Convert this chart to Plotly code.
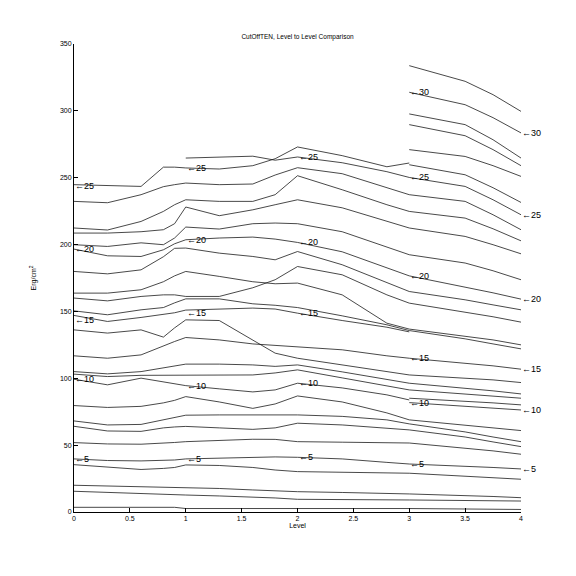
import plotly.graph_objects as go

# level positions sampled along each curve
X_LEFT = [0, 0.3, 0.6, 0.8, 0.9, 1.0, 1.3, 1.6, 1.8, 2.0, 2.4, 2.8, 3.0]
X_RIGHT = [3.0, 3.5, 3.75, 4.0]

# curves between level 0 and level 3 (bottom to top)
left_01 = [3.5, 3.5, 3.5, 3.5, 3.5, 2.6, 2.6, 2.6, 2.6, 2.6, 2.6, 2.6, 2.6]
left_02 = [15.5, 14.6, 13.5, 13.1, 12.9, 12.7, 12.0, 11.2, 10.5, 9.5, 9.4, 9.1, 9.0]
left_03 = [20.0, 19.5, 18.7, 18.5, 18.3, 18.2, 17.6, 16.5, 15.7, 15.2, 14.6, 14.0, 13.5]
left_04 = [35.4, 33.7, 31.8, 32.6, 33.3, 35.2, 34.8, 33.3, 31.4, 30.2, 29.6, 29.3, 29.0]
left_05 = [39.7, 38.5, 38.2, 38.5, 38.9, 39.7, 40.4, 40.9, 41.2, 40.9, 39.7, 37.1, 35.9]
left_06 = [51.9, 50.9, 50.7, 51.3, 52.0, 52.6, 53.5, 54.4, 54.3, 52.6, 52.2, 52.0, 51.6]
left_07 = [64.1, 60.6, 60.3, 62.9, 63.6, 64.0, 62.9, 61.8, 62.9, 66.4, 65.1, 62.9, 61.4]
left_08 = [68.1, 65.1, 65.5, 68.9, 70.7, 72.4, 72.6, 72.6, 72.6, 72.6, 71.5, 68.9, 65.9]
left_09 = [79.6, 78.2, 79.0, 81.6, 83.5, 86.3, 82.3, 77.5, 80.8, 86.8, 82.3, 74.1, 68.9]
left_10 = [99.3, 95.1, 100.1, 97.3, 95.8, 94.5, 92.1, 89.8, 91.3, 96.3, 92.8, 87.6, 83.8]
left_11 = [103.1, 101.3, 102.2, 102.2, 102.2, 102.2, 102.2, 102.5, 104.0, 106.3, 100.3, 94.3, 91.3]
left_12 = [105.0, 103.3, 105.0, 107.8, 108.9, 110.6, 110.6, 110.0, 108.9, 110.0, 104.8, 98.8, 96.3]
left_13 = [116.8, 115.0, 117.5, 124.5, 127.5, 130.5, 128.7, 125.7, 124.5, 123.8, 121.3, 116.8, 115.0]
left_14 = [136.2, 133.8, 136.2, 130.8, 137.7, 143.7, 143.2, 128.7, 118.8, 115.0, 110.0, 105.5, 102.5]
left_15 = [147.0, 142.5, 145.5, 147.5, 149.0, 151.0, 151.8, 152.5, 151.8, 148.7, 143.2, 138.2, 134.7]
left_16 = [150.4, 147.5, 151.2, 152.9, 156.4, 159.4, 159.4, 155.7, 154.6, 152.9, 146.7, 140.0, 135.7]
left_17 = [160.0, 157.9, 161.2, 162.4, 162.4, 161.2, 161.2, 167.7, 173.7, 183.6, 177.4, 162.4, 156.2]
left_18 = [163.7, 163.7, 166.2, 172.2, 176.6, 179.9, 176.2, 172.2, 170.7, 171.2, 162.4, 141.2, 136.8]
left_19 = [179.9, 178.1, 181.1, 190.9, 197.2, 197.4, 193.6, 191.1, 188.6, 194.8, 184.9, 171.4, 164.9]
left_20 = [196.6, 191.6, 191.1, 196.1, 200.6, 203.6, 204.9, 205.6, 204.1, 201.6, 194.6, 182.6, 176.6]
left_21 = [199.9, 198.6, 201.3, 199.9, 204.9, 213.1, 211.6, 215.6, 216.1, 215.6, 209.6, 198.4, 192.4]
left_22 = [208.6, 208.6, 209.6, 211.1, 215.6, 228.1, 221.6, 226.0, 229.8, 233.5, 227.5, 217.1, 212.4]
left_23 = [212.4, 210.9, 217.3, 224.8, 229.8, 233.5, 232.3, 232.3, 237.3, 251.5, 241.0, 229.8, 224.8]
left_24 = [232.3, 231.3, 237.3, 243.3, 244.8, 246.0, 244.8, 245.3, 252.0, 257.5, 253.0, 242.5, 237.3]
left_25 = [244.8, 244.0, 243.5, 257.9, 257.9, 257.3, 256.5, 259.0, 264.2, 273.0, 266.5, 258.2, 261.0]
left_26 = [None, None, None, None, None, 264.7, 265.3, 266.1, 263.1, 265.5, 261.2, 254.5, 250.2]

# curves between level 3 and level 4 (bottom to top)
right_01 = [2.6, 2.2, 1.9, 1.9]
right_02 = [9.0, 8.6, 8.4, 8.2]
right_03 = [13.5, 12.4, 11.6, 10.7]
right_04 = [29.0, 26.9, 25.8, 24.5]
right_05 = [35.9, 34.4, 33.3, 32.2]
right_06 = [51.6, 47.9, 45.7, 43.2]
right_07 = [61.4, 56.1, 52.4, 48.9]
right_08 = [65.9, 59.9, 56.1, 52.6]
right_09 = [68.9, 65.1, 62.9, 60.9]
right_10 = [81.8, 79.3, 77.8, 76.3]
right_11 = [85.1, 83.1, 81.6, 80.1]
right_12 = [91.3, 88.3, 86.8, 85.1]
right_13 = [96.3, 92.8, 90.6, 88.3]
right_14 = [102.5, 100.3, 98.8, 96.8]
right_15 = [115.0, 111.5, 109.3, 106.8]
right_16 = [135.7, 129.5, 125.7, 122.0]
right_17 = [136.8, 131.7, 128.7, 125.0]
right_18 = [156.2, 149.7, 146.0, 142.0]
right_19 = [164.9, 158.7, 154.9, 151.2]
right_20 = [176.6, 168.4, 163.9, 159.2]
right_21 = [192.4, 186.2, 180.4, 173.7]
right_22 = [212.4, 206.1, 199.9, 193.1]
right_23 = [224.8, 219.8, 211.8, 202.8]
right_24 = [237.3, 232.3, 222.3, 211.1]
right_25 = [250.2, 243.5, 233.5, 222.3]
right_26 = [259.7, 252.2, 242.5, 231.5]
right_27 = [271.0, 265.9, 259.0, 251.0]
right_28 = [289.7, 281.4, 271.0, 259.0]
right_29 = [297.7, 289.7, 278.4, 264.7]
right_30 = [313.9, 304.6, 294.9, 283.5]
right_31 = [333.8, 322.1, 312.1, 299.6]

# line index labels at each level
label_text = ["5", "10", "15", "20", "25"] * 3 + ["5", "10", "15", "20", "25", "30"] * 2
label_x = [0] * 5 + [1] * 5 + [2] * 5 + [3] * 6 + [4] * 6
label_y = [39.7, 99.6, 143.7, 197.0, 244.0,
           39.7, 94.5, 148.7, 203.6, 257.3,
           41.2, 96.3, 148.7, 201.6, 265.5,
           35.9, 81.8, 115.0, 176.6, 250.2, 313.9,
           32.2, 76.3, 106.8, 159.2, 222.3, 283.5]

LEFT = [left_01, left_02, left_03, left_04, left_05, left_06, left_07, left_08,
        left_09, left_10, left_11, left_12, left_13, left_14, left_15, left_16,
        left_17, left_18, left_19, left_20, left_21, left_22, left_23, left_24,
        left_25, left_26]
RIGHT = [right_01, right_02, right_03, right_04, right_05, right_06, right_07,
         right_08, right_09, right_10, right_11, right_12, right_13, right_14,
         right_15, right_16, right_17, right_18, right_19, right_20, right_21,
         right_22, right_23, right_24, right_25, right_26, right_27, right_28,
         right_29, right_30, right_31]

FONT = "Liberation Sans, Arial, sans-serif"
LINE = dict(color="#1a1a1a", width=0.8)

fig = go.Figure()

for ys in LEFT:
    fig.add_trace(go.Scatter(x=X_LEFT, y=ys, mode="lines", line=LINE,
                             showlegend=False, hoverinfo="skip"))
for ys in RIGHT:
    fig.add_trace(go.Scatter(x=X_RIGHT, y=ys, mode="lines", line=LINE,
                             showlegend=False, hoverinfo="skip"))

for t, lx, ly in zip(label_text, label_x, label_y):
    fig.add_annotation(x=lx, y=ly, text="\u2190" + t, showarrow=False,
                       xanchor="left", yanchor="middle", xshift=-1,
                       font=dict(family=FONT, size=9, color="#000000"))

fig.update_layout(
    width=568, height=568,
    paper_bgcolor="white", plot_bgcolor="white",
    margin=dict(l=66, r=55, t=36, b=64),
    font=dict(family=FONT, size=7, color="#000000"),
    title=dict(text="CutOffTEN, Level to Level Comparison",
               x=0.5, xref="paper", y=0.949, yanchor="middle",
               font=dict(family=FONT, size=6.5, color="#000000")),
)

fig.update_xaxes(
    range=[0, 4], tickvals=[0, 0.5, 1, 1.5, 2, 2.5, 3, 3.5, 4],
    ticktext=["0", "0.5", "1", "1.5", "2", "2.5", "3", "3.5", "4"],
    ticks="inside", ticklen=4, tickcolor="#000000", showline=True,
    linecolor="#000000", linewidth=1, showgrid=False, zeroline=False,
    title=dict(text="Level", standoff=0, font=dict(size=7)),
    tickfont=dict(size=7),
)
fig.update_yaxes(
    range=[0, 350], tickvals=[0, 50, 100, 150, 200, 250, 300, 350],
    ticks="inside", ticklen=4, tickcolor="#000000", showline=True,
    linecolor="#000000", linewidth=1, showgrid=False, zeroline=False,
    title=dict(text="Erg/cm<sup>2</sup>", standoff=22, font=dict(size=7)),
    tickfont=dict(size=7),
)

fig.write_html("out.html")
